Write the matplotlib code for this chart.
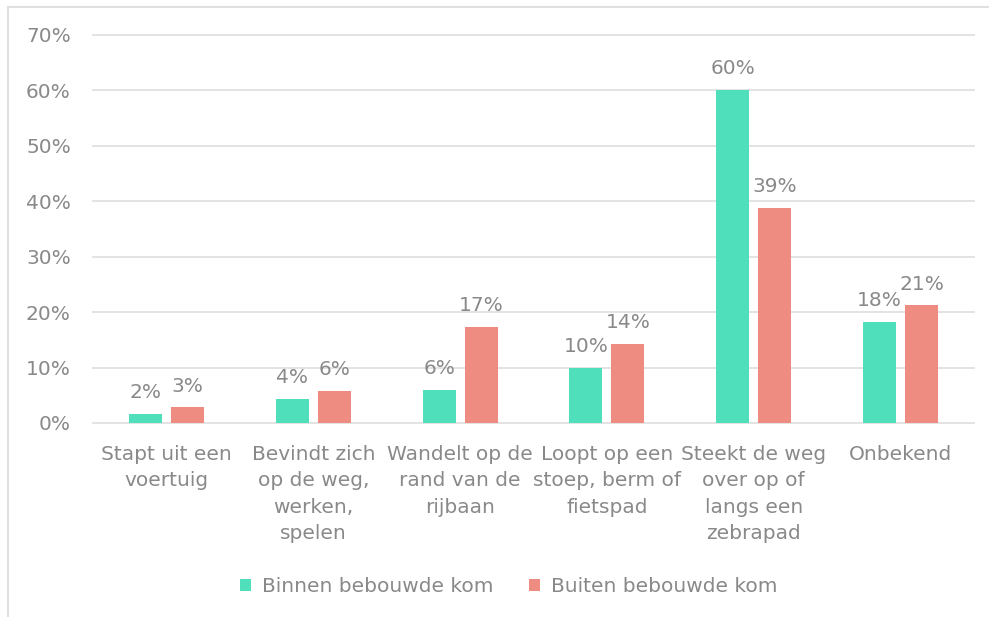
import matplotlib
matplotlib.use("Agg")
import matplotlib.pyplot as plt
from matplotlib.patches import Patch
from matplotlib.lines import Line2D
import numpy as np

categories = [
    "Stapt uit een\nvoertuig",
    "Bevindt zich\nop de weg,\nwerken,\nspelen",
    "Wandelt op de\nrand van de\nrijbaan",
    "Loopt op een\nstoep, berm of\nfietspad",
    "Steekt de weg\nover op of\nlangs een\nzebrapad",
    "Onbekend",
]
binnen = [1.6, 4.3, 5.9, 10.0, 60.0, 18.3]
buiten = [2.8, 5.8, 17.3, 14.3, 38.8, 21.2]
series_names = ["Binnen bebouwde kom", "Buiten bebouwde kom"]
y_ticks = [0, 10, 20, 30, 40, 50, 60, 70]

GREEN = "#4FDFBA"
RED = "#EE8C81"
TEXT = "#898989"
GRID = "#E3E3E3"
FS = 14.5

plt.rcParams["font.family"] = ["DejaVu Sans"]

W, H = 989, 617
fig = plt.figure(figsize=(W / 100, H / 100), dpi=100)
ax = fig.add_axes([93 / W, 194 / H, (974 - 93) / W, (423 - 35) / H])

x = np.arange(len(categories))
bw = 0.225
off = 0.143
b1 = ax.bar(x - off, binnen, bw, color=GREEN, zorder=3)
b2 = ax.bar(x + off, buiten, bw, color=RED, zorder=3)

for bars, vals in ((b1, binnen), (b2, buiten)):
    for rect, v in zip(bars, vals):
        ax.annotate(f"{v:.0f}%", (rect.get_x() + rect.get_width() / 2, v),
                    xytext=(0, 11.5), textcoords="offset points",
                    ha="center", va="baseline", fontsize=FS, color=TEXT)

ax.set_xlim(-0.5, len(categories) - 0.5)
ax.set_ylim(0, 70)
ax.set_yticks(y_ticks)
ax.set_yticklabels([f"{t}%" for t in y_ticks])
ax.set_xticks(x)
ax.set_xticklabels(categories, linespacing=1.48)
ax.tick_params(axis="both", length=0, labelsize=FS, labelcolor=TEXT)
ax.tick_params(axis="y", pad=16)
ax.tick_params(axis="x", pad=16)
ax.yaxis.grid(True, color=GRID, linewidth=1.4, zorder=0)
for gl in ax.get_ygridlines():
    gl.set_clip_on(False)
ax.set_axisbelow(True)
for s in ax.spines.values():
    s.set_visible(False)

handles = [Patch(facecolor=GREEN, edgecolor="none"), Patch(facecolor=RED, edgecolor="none")]
fig.legend(handles, series_names, loc="center", bbox_to_anchor=(509 / W, 1 - 587 / H),
           ncol=2, frameon=False, fontsize=FS, labelcolor=TEXT,
           handlelength=0.55, handleheight=0.55, handletextpad=0.55, columnspacing=1.75)

# light frame along the top and left edges
fig.add_artist(Line2D([8 / W, 8 / W], [0, 1 - 7 / H], color="#E0E0E0", linewidth=1.5))
fig.add_artist(Line2D([8 / W, 1], [1 - 7 / H, 1 - 7 / H], color="#E0E0E0", linewidth=1.5))

fig.savefig("out.png", dpi=100, facecolor="white")
